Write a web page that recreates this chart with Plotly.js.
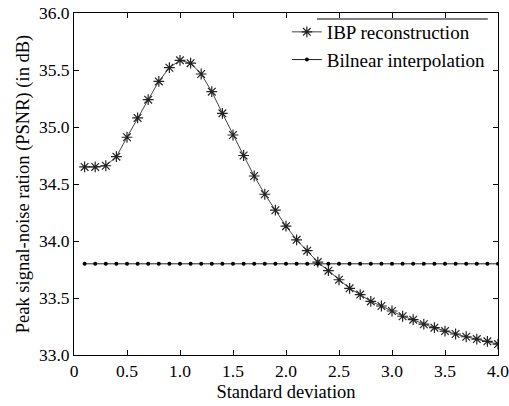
<!DOCTYPE html>
<html>
<head>
<meta charset="utf-8">
<script src="https://cdn.plot.ly/plotly-3.0.1.min.js"></script>
<style>html,body{margin:0;padding:0;background:#fff;}#chart{width:509px;height:406px;}</style>
</head>
<body>
<div id="chart"></div>
<script>
const sigma = [0.1,0.2,0.3,0.4,0.5,0.6,0.7,0.8,0.9,1.0,1.1,1.2,1.3,1.4,1.5,1.6,1.7,1.8,1.9,2.0,2.1,2.2,2.3,2.4,2.5,2.6,2.7,2.8,2.9,3.0,3.1,3.2,3.3,3.4,3.5,3.6,3.7,3.8,3.9,4.0];
const ibp = [34.65,34.65,34.66,34.74,34.91,35.08,35.24,35.40,35.52,35.585,35.56,35.465,35.31,35.12,34.93,34.75,34.57,34.41,34.27,34.13,34.01,33.915,33.815,33.74,33.66,33.585,33.53,33.47,33.43,33.386,33.34,33.31,33.27,33.24,33.21,33.184,33.16,33.14,33.12,33.096];
const bilinear = [33.80,33.80,33.80,33.80,33.80,33.80,33.80,33.80,33.80,33.80,33.80,33.80,33.80,33.80,33.80,33.80,33.80,33.80,33.80,33.80,33.80,33.80,33.80,33.80,33.80,33.80,33.80,33.80,33.80,33.80,33.80,33.80,33.80,33.80,33.80,33.80,33.80,33.80,33.80,33.80];
const xTickVals = [0,0.5,1.0,1.5,2.0,2.5,3.0,3.5,4.0];
const xTickText = ['0','0.5','1.0','1.5','2.0','2.5','3.0','3.5','4.0'];
const yTickVals = [33.0,33.5,34.0,34.5,35.0,35.5,36.0];
const yTickText = ['33.0','33.5','34.0','34.5','35.0','35.5','36.0'];

const FAM = 'Liberation Serif';
const tickFont = {family: FAM, size: 17.5, color: '#000'};
const titleFont = {family: FAM, size: 18.5, color: '#000'};
const legendFont = {family: FAM, size: 19, color: '#000'};

const traces = [
  {x: sigma, y: ibp, name: 'IBP reconstruction', type: 'scatter', mode: 'lines+markers',
   line: {color: '#444', width: 1},
   marker: {symbol: 'asterisk-open', size: 9, color: '#222', line: {color: '#222', width: 1.2}}},
  {x: sigma, y: bilinear, name: 'Bilnear interpolation', type: 'scatter', mode: 'lines+markers',
   line: {color: '#222', width: 1},
   marker: {symbol: 'circle', size: 4, color: '#000'}}
];

const axisCommon = {showline: true, linecolor: '#000', linewidth: 1, mirror: 'ticks',
  ticks: 'inside', ticklen: 5, tickcolor: '#000', tickwidth: 1, showgrid: false, zeroline: false,
  tickfont: tickFont, ticklabeloverflow: 'allow'};

const layout = {
  width: 509, height: 406,
  margin: {l: 74, r: 11, t: 13, b: 51},
  paper_bgcolor: '#fff', plot_bgcolor: '#fff',
  font: tickFont,
  showlegend: true,
  legend: {x: 0.502, y: 1.0, xanchor: 'left', yanchor: 'top', bgcolor: 'rgba(0,0,0,0)',
    font: legendFont, tracegroupgap: 0, itemwidth: 30},
  xaxis: Object.assign({}, axisCommon, {range: [0, 4], tickvals: xTickVals, ticktext: xTickText,
    title: {text: 'Standard deviation', font: titleFont, standoff: 5}}),
  yaxis: Object.assign({}, axisCommon, {range: [33, 36], tickvals: yTickVals, ticktext: yTickText,
    title: {text: 'Peak signal-noise ration (PSNR) (in dB)', font: titleFont, standoff: 4}}),
  shapes: [{type: 'line', xref: 'paper', yref: 'paper', x0: 0.573, x1: 0.976, y0: 0.9825, y1: 0.9825,
    line: {color: '#000', width: 1}}]
};

Plotly.newPlot('chart', traces, layout, {displayModeBar: false, staticPlot: true});
</script>
</body>
</html>
